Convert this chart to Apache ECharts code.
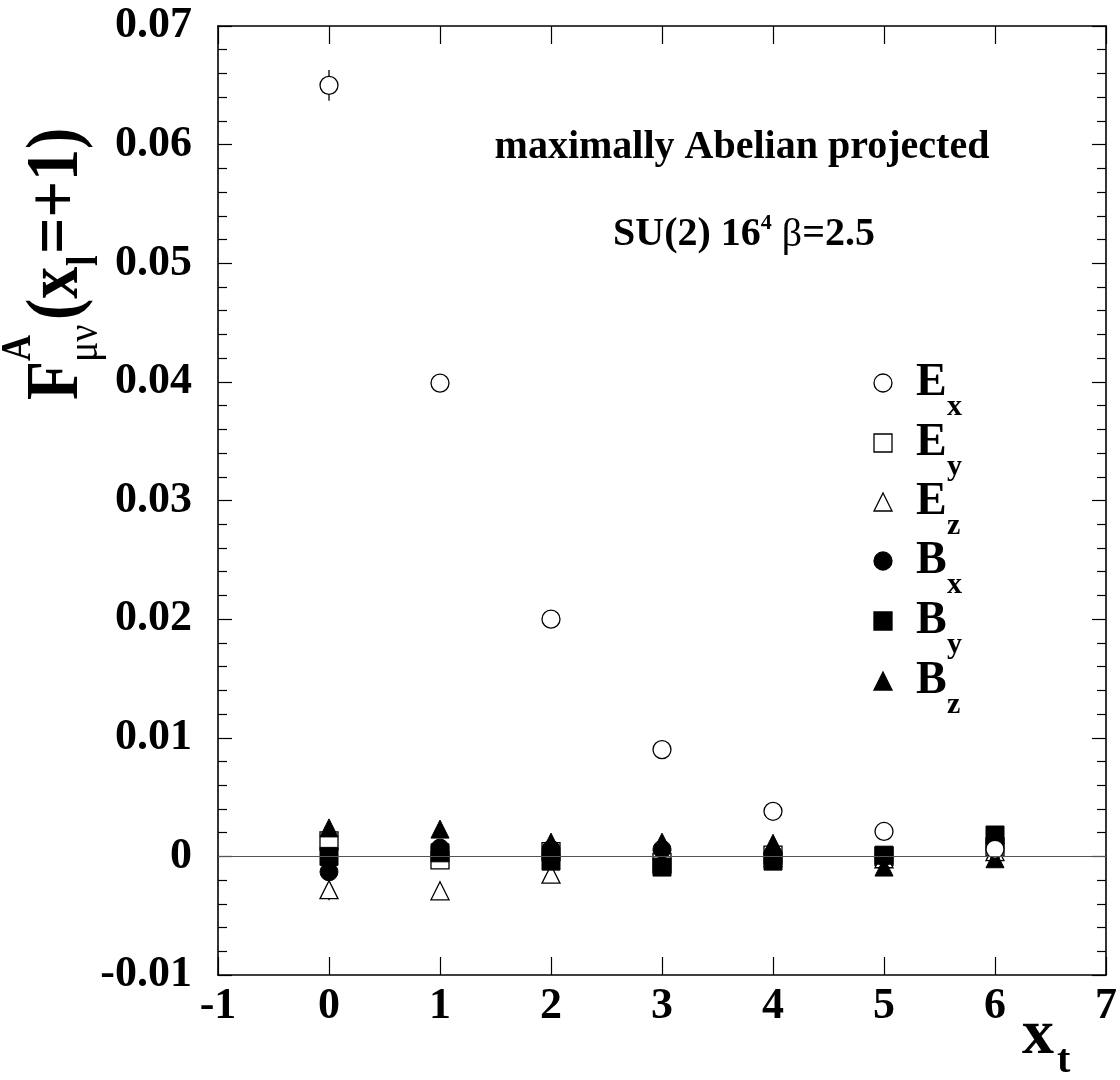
<!DOCTYPE html>
<html>
<head>
<meta charset="utf-8">
<script src="https://cdn.jsdelivr.net/npm/echarts@6/dist/echarts.min.js"></script>
<style>
html,body{margin:0;padding:0;background:#fff;}
#chart{width:1120px;height:1080px;}
</style>
</head>
<body>
<div id="chart"></div>
<script>
// ---- data ----
const xVals = [0, 1, 2, 3, 4, 5, 6];
const Ex = [0.0650, 0.0399, 0.0200, 0.0090, 0.0038, 0.0021, 0.0006];
const ExErr = [0.0013, 0.0003, 0.0002, 0.0002, 0.0002, 0.0002, 0.0002];
const Ey = [0.0013, -0.0003, 0.0004, -0.0005, 0.0001, 0.0000, 0.0008];
const Ez = [-0.0028, -0.0029, -0.0015, -0.0006, -0.0001, -0.0002, 0.0004];
const EzErr = [0.0009, 0.0002, 0.0002, 0.0002, 0.0002, 0.0002, 0.0002];
const Bx = [-0.0013, 0.0007, 0.0006, 0.0006, 0.0002, 0.0000, 0.0010];
const By = [0.0000, 0.0003, -0.0004, -0.0009, -0.0004, 0.0001, 0.0018];
const Bz = [0.0024, 0.0023, 0.0012, 0.0012, 0.0011, -0.0009, -0.0002];

const xMin = -1, xMax = 7, xStep = 1;
const yMin = -0.01, yMax = 0.07, yStep = 0.01;

const legendMain = ['E', 'E', 'E', 'B', 'B', 'B'];
const legendSub = ['x', 'y', 'z', 'x', 'y', 'z'];
const titleLine1 = 'maximally Abelian projected';

// ---- chart ----
const FF = "'Liberation Serif', 'Times New Roman', 'DejaVu Serif', serif";
const chart = echarts.init(document.getElementById('chart'), null, {renderer: 'canvas'});

const pts = arr => xVals.map((x, i) => [x, arr[i]]);
const errPts = (arr, err) => xVals.map((x, i) => [x, arr[i], err[i]]);

const openStyle = {color: '#fff', borderColor: '#000', borderWidth: 1.3, opacity: 1};
const fillStyle = {color: '#000', borderColor: '#000', borderWidth: 1, opacity: 1};

function errRender(params, api) {
  const x = api.value(0), y = api.value(1), e = api.value(2);
  const p1 = api.coord([x, y + e]);
  const p2 = api.coord([x, y - e]);
  return {type: 'line', shape: {x1: p1[0], y1: p1[1], x2: p2[0], y2: p2[1]},
          style: {stroke: '#000', lineWidth: 1.3}};
}

const axisLineStyle = {show: true, onZero: false, lineStyle: {color: '#000', width: 1.6}};
const labelStyle = {color: '#000', fontFamily: FF, fontWeight: 'bold', fontSize: 44};

const xAxisBase = {
  type: 'value', min: xMin, max: xMax, interval: xStep,
  axisLine: axisLineStyle,
  axisTick: {show: true, inside: true, length: 18, lineStyle: {color: '#000', width: 1.2}},
  splitLine: {show: false}
};
const yAxisBase = {
  type: 'value', min: yMin, max: yMax, interval: yStep,
  axisLine: axisLineStyle,
  axisTick: {show: true, inside: true, length: 14, lineStyle: {color: '#000', width: 1.2}},
  minorTick: {show: true, splitNumber: 5, length: 9, lineStyle: {color: '#000', width: 1.2}},
  splitLine: {show: false},
  minorSplitLine: {show: false}
};

const sym = 18;
const legendY = [383, 443, 502, 561, 621, 681];
const legendX = 883;

function legendMarker(i) {
  const cx = legendX, cy = legendY[i], r = 9;
  const open = i < 3;
  const st = {fill: open ? '#fff' : '#000', stroke: '#000', lineWidth: 1.3};
  const kind = i % 3;
  if (kind === 0) return {type: 'circle', shape: {cx, cy, r}, style: st};
  if (kind === 1) return {type: 'rect', shape: {x: cx - r, y: cy - r, width: 2 * r, height: 2 * r}, style: st};
  return {type: 'polygon', shape: {points: [[cx, cy - r], [cx + r, cy + r], [cx - r, cy + r]]}, style: st};
}

const graphics = [];
for (let i = 0; i < 6; i++) {
  graphics.push(legendMarker(i));
  graphics.push({type: 'text', x: 916, y: legendY[i],
    style: {text: legendMain[i], font: 'bold 46px ' + FF, fill: '#000', align: 'left', verticalAlign: 'middle'}});
  graphics.push({type: 'text', x: 947, y: legendY[i] + 24,
    style: {text: legendSub[i], font: 'bold 30px ' + FF, fill: '#000', align: 'left', verticalAlign: 'middle'}});
}
// titles
graphics.push({type: 'text', x: 742, y: 148,
  style: {text: titleLine1, font: 'bold 40px ' + FF, fill: '#000', align: 'center', verticalAlign: 'middle'}});
graphics.push({type: 'text', x: 744, y: 235,
  style: {text: '{a|SU(2) 16}{s|4}{b| β}{a|=2.5}', fill: '#000', align: 'center', verticalAlign: 'middle',
    rich: {
      a: {font: 'bold 40px ' + FF, fill: '#000'},
      s: {font: 'bold 22px ' + FF, fill: '#000', padding: [0, 0, 24, 0]},
      b: {font: '40px ' + FF, fill: '#000'}
    }}});
// y-axis title (rotated)
graphics.push({type: 'group', x: 58, y: 400, rotation: Math.PI / 2, scaleX: 1.0, scaleY: 1.15, children: [
  {type: 'text', x: 0, y: 0, style: {text: 'F', font: 'bold 64px ' + FF, fill: '#000', align: 'left', verticalAlign: 'middle'}},
  {type: 'text', x: 39, y: -34, style: {text: 'A', font: 'bold 36px ' + FF, fill: '#000', align: 'left', verticalAlign: 'middle'}},
  {type: 'text', x: 38, y: 24, style: {text: 'μν', font: '38px ' + FF, fill: '#000', align: 'left', verticalAlign: 'middle'}},
  {type: 'text', x: 80, y: 0, style: {text: '(x', font: 'bold 64px ' + FF, fill: '#000', align: 'left', verticalAlign: 'middle'}},
  {type: 'text', x: 134, y: 24, style: {text: 'l', font: 'bold 38px ' + FF, fill: '#000', align: 'left', verticalAlign: 'middle'}},
  {type: 'text', x: 146, y: 0, style: {text: '=+1)', font: 'bold 64px ' + FF, fill: '#000', align: 'left', verticalAlign: 'middle'}}
]});
// x-axis title
graphics.push({type: 'text', x: 1022, y: 1036,
  style: {text: 'x', font: 'bold 64px ' + FF, fill: '#000', align: 'left', verticalAlign: 'middle'}});
graphics.push({type: 'text', x: 1057, y: 1062,
  style: {text: 't', font: 'bold 40px ' + FF, fill: '#000', align: 'left', verticalAlign: 'middle'}});

const option = {
  backgroundColor: '#fff',
  animation: false,
  grid: {left: 218, right: 13, top: 26, bottom: 105, show: false},
  xAxis: [
    Object.assign({}, xAxisBase, {position: 'bottom',
      axisLabel: Object.assign({show: true, margin: 10, showMinLabel: true, showMaxLabel: true,
        formatter: v => String(Math.round(v))}, labelStyle)}),
    Object.assign({}, xAxisBase, {position: 'top', axisLabel: {show: false}})
  ],
  yAxis: [
    Object.assign({}, yAxisBase, {position: 'left',
      axisLabel: Object.assign({show: true, margin: 26, showMinLabel: true, showMaxLabel: true,
        formatter: v => (Math.abs(v) < 1e-9 ? '0' : v.toFixed(2))}, labelStyle)}),
    Object.assign({}, yAxisBase, {position: 'right', axisLabel: {show: false}})
  ],
  series: [
    {type: 'custom', name: 'ExErr', renderItem: errRender, data: errPts(Ex, ExErr), z: 1, silent: true,
     encode: {x: 0, y: 1}},
    {type: 'custom', name: 'EzErr', renderItem: errRender, data: errPts(Ez, EzErr), z: 1, silent: true,
     encode: {x: 0, y: 1}},
    {type: 'scatter', name: 'Ey', symbol: 'rect', symbolSize: sym, data: pts(Ey), itemStyle: openStyle, z: 2,
     markLine: {silent: true, symbol: 'none', label: {show: false},
       lineStyle: {color: '#555', width: 1.2, type: 'solid'}, data: [{yAxis: 0}]}},
    {type: 'scatter', name: 'Ez', symbol: 'triangle', symbolSize: sym, data: pts(Ez), itemStyle: openStyle, z: 2},
    {type: 'scatter', name: 'Bx', symbol: 'circle', symbolSize: sym, data: pts(Bx), itemStyle: fillStyle, z: 3},
    {type: 'scatter', name: 'By', symbol: 'rect', symbolSize: sym, data: pts(By), itemStyle: fillStyle, z: 3},
    {type: 'scatter', name: 'Bz', symbol: 'triangle', symbolSize: sym, data: pts(Bz), itemStyle: fillStyle, z: 3},
    {type: 'scatter', name: 'Ex', symbol: 'circle', symbolSize: sym, data: pts(Ex), itemStyle: openStyle, z: 4}
  ],
  graphic: graphics
};
chart.setOption(option);
</script>
</body>
</html>
